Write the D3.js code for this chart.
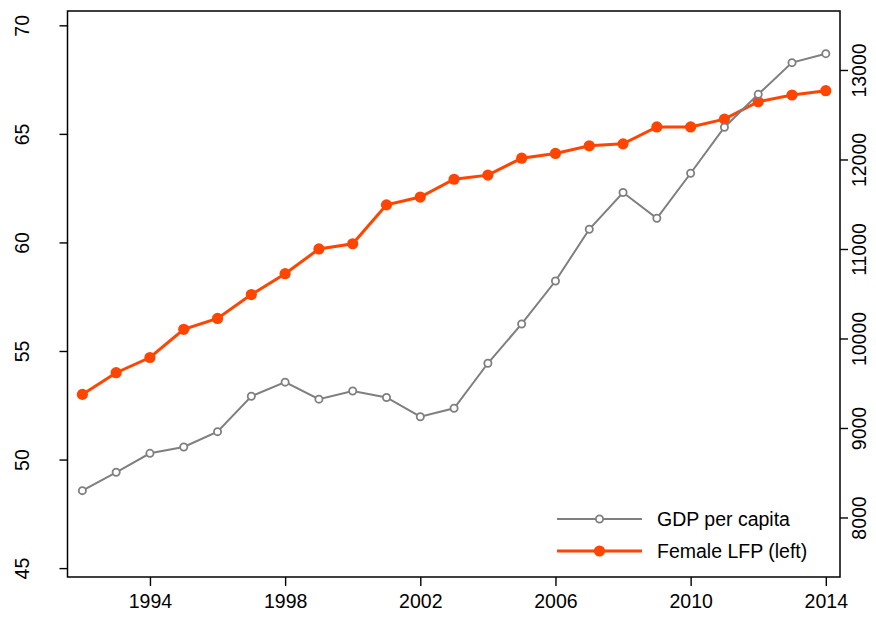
<!DOCTYPE html>
<html>
<head>
<meta charset="utf-8">
<script src="https://cdn.jsdelivr.net/npm/d3@7"></script>
<style>
  body { margin: 0; background: #fff; }
  text { font-family: "Liberation Sans", Arial, sans-serif; fill: #000; }
</style>
</head>
<body>
<div id="chart"></div>
<script>
// Data
var years = d3.range(1992, 2015);
var lfp = [53.0, 54.0, 54.7, 56.0, 56.5, 57.6, 58.56, 59.7, 59.94, 61.73, 62.09, 62.91,
           63.1, 63.88, 64.1, 64.45, 64.54, 65.32, 65.32, 65.68, 66.48, 66.79, 66.99];
var gdp = [8300, 8505, 8717, 8788, 8959, 9354, 9512, 9322, 9413, 9341, 9126, 9220,
           9723, 10162, 10642, 11220, 11631, 11343, 11846, 12360, 12728, 13082, 13182];
var xTicks = [1994, 1998, 2002, 2006, 2010, 2014];
var leftTicks = [45, 50, 55, 60, 65, 70];
var rightTicks = [8000, 9000, 10000, 11000, 12000, 13000];
var legendLabels = ["GDP per capita", "Female LFP (left)"];

var width = 876, height = 618;
var box = { left: 67.5, right: 840, top: 11, bottom: 577 };
var orange = "#ff4500", grey = "#7f7f7f";

var svg = d3.select("#chart").append("svg")
    .attr("width", width)
    .attr("height", height);

// Scales
var x = d3.scaleLinear().domain([1991.56, 2014.42]).range([box.left, box.right]);
var yL = d3.scaleLinear().domain([44.59, 70.66]).range([box.bottom, box.top]);
var yR = d3.scaleLinear().domain([7335, 13659]).range([box.bottom, box.top]);

// Axes
var fontSize = "19.5px";

var xAxis = svg.append("g")
    .attr("transform", "translate(0," + box.bottom + ")")
    .call(d3.axisBottom(x).tickValues(xTicks).tickFormat(d3.format("d")).tickSize(9).tickPadding(8));

var lAxis = svg.append("g")
    .attr("transform", "translate(" + box.left + ",0)")
    .call(d3.axisLeft(yL).tickValues(leftTicks).tickSize(8).tickFormat(d3.format("d")));

var rAxis = svg.append("g")
    .attr("transform", "translate(" + box.right + ",0)")
    .call(d3.axisRight(yR).tickValues(rightTicks).tickSize(8).tickFormat(d3.format("d")));

[xAxis, lAxis, rAxis].forEach(function(g) {
    g.select(".domain").remove();
    g.selectAll("line").attr("stroke", "#000").attr("stroke-width", 1.4);
    g.selectAll("text").style("font-size", fontSize).attr("fill", "#000");
});

// rotate y labels like R does (parallel to the axis)
lAxis.selectAll("text")
    .attr("x", null).attr("dy", null)
    .attr("text-anchor", "middle")
    .attr("transform", "translate(-45,0) rotate(-90)")
    .attr("dy", "0.35em");

rAxis.selectAll("text")
    .attr("x", null).attr("dy", null)
    .attr("text-anchor", "middle")
    .attr("transform", "translate(19,0) rotate(-90)")
    .attr("dy", "0.35em");

// Plot frame
svg.append("rect")
    .attr("x", box.left).attr("y", box.top)
    .attr("width", box.right - box.left)
    .attr("height", box.bottom - box.top)
    .attr("fill", "none")
    .attr("stroke", "#000")
    .attr("stroke-width", 1.5);

// Female LFP (left axis)
var lfpData = years.map(function(y, i) { return { year: y, v: lfp[i] }; });
var gdpData = years.map(function(y, i) { return { year: y, v: gdp[i] }; });

svg.append("path")
    .datum(lfpData)
    .attr("fill", "none")
    .attr("stroke", orange)
    .attr("stroke-width", 3)
    .attr("d", d3.line().x(d => x(d.year)).y(d => yL(d.v)));

svg.selectAll("circle.lfp")
    .data(lfpData)
    .enter().append("circle")
    .attr("class", "lfp")
    .attr("cx", d => x(d.year))
    .attr("cy", d => yL(d.v))
    .attr("r", 5.6)
    .attr("fill", orange);

// GDP per capita (right axis)
svg.append("path")
    .datum(gdpData)
    .attr("fill", "none")
    .attr("stroke", grey)
    .attr("stroke-width", 2)
    .attr("d", d3.line().x(d => x(d.year)).y(d => yR(d.v)));

svg.selectAll("circle.gdp")
    .data(gdpData)
    .enter().append("circle")
    .attr("class", "gdp")
    .attr("cx", d => x(d.year))
    .attr("cy", d => yR(d.v))
    .attr("r", 3.6)
    .attr("fill", "#fff")
    .attr("stroke", grey)
    .attr("stroke-width", 1.8);

// Legend
var legend = svg.append("g").attr("transform", "translate(557,519)");

legend.append("line").attr("x1", 0).attr("x2", 85).attr("y1", 0).attr("y2", 0)
    .attr("stroke", grey).attr("stroke-width", 2);
legend.append("circle").attr("cx", 42.5).attr("cy", 0).attr("r", 3.6)
    .attr("fill", "#fff").attr("stroke", grey).attr("stroke-width", 1.8);
legend.append("text").attr("x", 100).attr("y", 0).attr("dy", "0.35em")
    .style("font-size", fontSize).text(legendLabels[0]);

legend.append("line").attr("x1", 0).attr("x2", 85).attr("y1", 32).attr("y2", 32)
    .attr("stroke", orange).attr("stroke-width", 3);
legend.append("circle").attr("cx", 42.5).attr("cy", 32).attr("r", 5.6)
    .attr("fill", orange);
legend.append("text").attr("x", 100).attr("y", 32).attr("dy", "0.35em")
    .style("font-size", fontSize).text(legendLabels[1]);
</script>
</body>
</html>
